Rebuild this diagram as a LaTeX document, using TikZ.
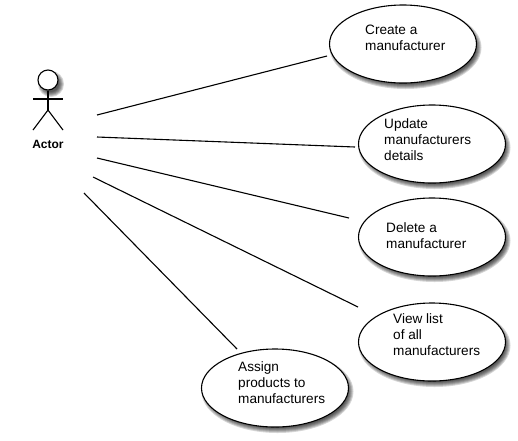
\documentclass[tikz,border=0pt]{standalone}
\usepackage{fontspec}
\setmainfont{Liberation Sans}
\usetikzlibrary{shapes.geometric}
\tikzset{
  uc/.style={draw=black,line width=1.1pt,fill=white,ellipse,inner sep=0pt,minimum width=147pt,minimum height=78pt},
  uctext/.style={anchor=west,align=left,inner sep=0pt,font=\fontsize{13.6pt}{16pt}\selectfont},
  assoc/.style={draw=black,line width=1.1pt},
  figure/.style={draw=black,line width=1.1pt},
  soft/.style={fill=black,fill opacity=0.16,draw=none}
}
\newcommand{\softell}[2]{%
  \foreach \g in {0,1,2,3,4,5}{
    \fill[soft] (#1+2.5,#2+3.5) ellipse ({73.5+2.5-\g} and {39+2.5-\g});
  }}
\begin{document}
\begin{tikzpicture}[x=1pt,y=-1pt]
\useasboundingbox (0,0) rectangle (518,440);
% shadows
\softell{403}{44}
\softell{432}{144}
\softell{432}{237}
\softell{432}{342}
\softell{275}{388}
\foreach \g in {0,1,2,3,4,5}{
  \fill[soft] (51,84) circle ({13-\g});
}
% use cases
\node[uc] (e1) at (403,44) {};
\node[uc] (e2) at (432,144) {};
\node[uc] (e3) at (432,237) {};
\node[uc] (e4) at (432,342) {};
\node[uc] (e5) at (275,388) {};
\node[uctext] (t1) at (365,37.5) {Create a\\manufacturer};
\node[uctext] (t2) at (384,139.5) {Update\\manufacturers\\details};
\node[uctext] (t3) at (386,235.5) {Delete a\\manufacturer};
\node[uctext] (t4) at (393,335) {View list\\of all\\manufacturers};
\node[uctext] (t5) at (238,383) {Assign\\products to\\manufacturers};
% actor
\node[draw=black,line width=1.1pt,fill=white,circle,inner sep=0pt,minimum size=20pt] (head) at (48,80) {};
\coordinate (hip) at (48,110);
\coordinate (armL) at (33,99);
\coordinate (armR) at (63,99);
\coordinate (legL) at (33,130);
\coordinate (legR) at (63,130);
\draw[figure] (head.south) -- (hip);
\draw[figure] (armL) -- (armR);
\draw[figure] (legL) -- (hip) -- (legR);
\node[inner sep=0pt,font=\fontsize{12pt}{14pt}\selectfont\bfseries] (actor) at (48,144) {Actor};
% connectors
\coordinate (a1) at (97,115); \coordinate (b1) at (327,56);
\coordinate (a2) at (97,137); \coordinate (b2) at (355,147);
\coordinate (a3) at (97,158); \coordinate (b3) at (349,218);
\coordinate (a4) at (93,177); \coordinate (b4) at (358,307);
\coordinate (a5) at (84,193); \coordinate (b5) at (237,349);
\draw[assoc] (a1) -- (b1);
\draw[assoc] (a2) -- (b2);
\draw[assoc] (a3) -- (b3);
\draw[assoc] (a4) -- (b4);
\draw[assoc] (a5) -- (b5);
\end{tikzpicture}
\end{document}
